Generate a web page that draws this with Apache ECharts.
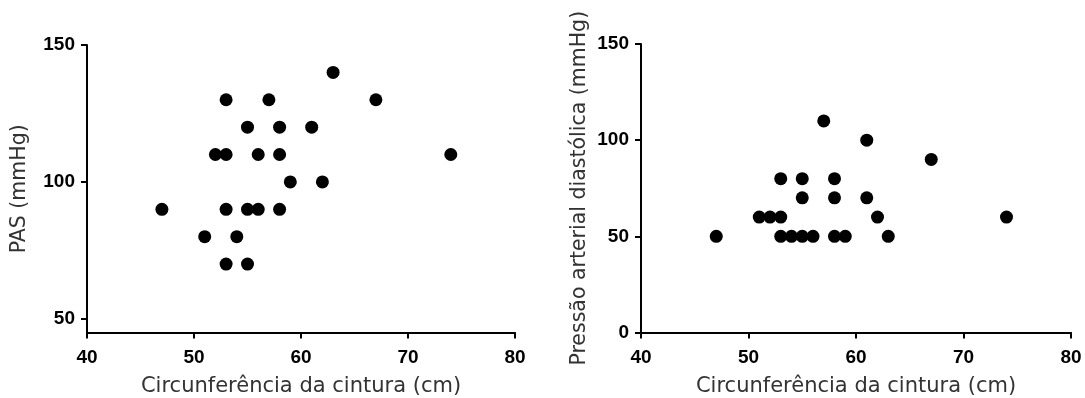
<!DOCTYPE html>
<html>
<head>
<meta charset="utf-8">
<script src="https://cdn.jsdelivr.net/npm/echarts@6/dist/echarts.min.js"></script>
<style>
  html, body { margin: 0; padding: 0; background: #fff; }
  #chart { width: 1085px; height: 398px; }
</style>
</head>
<body>
<div id="chart"></div>
<script>
// PAS x circunferência
const pasWaist = [63, 53, 57, 67, 55, 58, 61, 52, 53, 56, 58, 74, 59, 62, 47, 53, 55, 56, 58, 51, 54, 53, 55]
const pasValues = [140, 130, 130, 130, 120, 120, 120, 110, 110, 110, 110, 110, 100, 100, 90, 90, 90, 90, 90, 80, 80, 70, 70]

// PAD x circunferência
const padWaist = [57, 61, 67, 53, 55, 58, 55, 58, 61, 51, 52, 53, 62, 74, 47, 53, 54, 55, 56, 58, 59, 63]
const padValues = [110, 100, 90, 80, 80, 80, 70, 70, 70, 60, 60, 60, 60, 60, 50, 50, 50, 50, 50, 50, 50, 50]

const waistTicks = [40, 50, 60, 70, 80]
const pasTicks = [50, 100, 150]
const padTicks = [0, 50, 100, 150]

const xTitle = 'Circunferência da cintura (cm)'
const pasTitle = 'PAS (mmHg)'
const padTitle = 'Pressão arterial diastólica (mmHg)'

const tickFont = 'Arial, "Liberation Sans", sans-serif'
const titleFont = '"DejaVu Sans", Verdana, sans-serif'
const lineStyle = { color: '#000', width: 2 }
const yTitleStyle = { fontFamily: titleFont, fontSize: 20.5, color: '#333' }
const xTitleStyle = { fontFamily: titleFont, fontSize: 21, color: '#333' }

const toPoints = (xs, ys) => xs.map((x, i) => [x, ys[i]])

const xAxisBase = gridIndex => ({
  gridIndex,
  type: 'value',
  min: waistTicks[0],
  max: waistTicks[waistTicks.length - 1],
  interval: 10,
  name: xTitle,
  nameLocation: 'middle',
  nameGap: 44,
  nameTextStyle: xTitleStyle,
  axisLine: { show: true, lineStyle },
  axisTick: { show: true, length: 6, lineStyle },
  axisLabel: { margin: 16, fontFamily: tickFont, fontSize: 19, fontWeight: 'bold', color: '#000' },
  splitLine: { show: false }
})

const yAxisBase = (gridIndex, ticks, min, title, gap) => ({
  gridIndex,
  type: 'value',
  min,
  max: ticks[ticks.length - 1],
  name: title,
  nameLocation: 'middle',
  nameGap: gap,
  nameTextStyle: yTitleStyle,
  axisLine: { show: true, lineStyle },
  axisTick: { show: true, length: 6, lineStyle, customValues: ticks },
  axisLabel: { margin: 12, fontFamily: tickFont, fontSize: 19, fontWeight: 'bold', color: '#000', customValues: ticks },
  splitLine: { show: false }
})

const chart = echarts.init(document.getElementById('chart'))

chart.setOption({
  backgroundColor: '#fff',
  animation: false,
  grid: [
    { left: 87, right: 570, top: 45, bottom: 65.5, outerBoundsMode: 'none', containLabel: false },
    { left: 641, right: 14, top: 44, bottom: 65.5, outerBoundsMode: 'none', containLabel: false }
  ],
  xAxis: [xAxisBase(0), xAxisBase(1)],
  yAxis: [
    yAxisBase(0, pasTicks, 45, pasTitle, 57),
    yAxisBase(1, padTicks, 0, padTitle, 51)
  ],
  series: [
    {
      type: 'scatter',
      xAxisIndex: 0,
      yAxisIndex: 0,
      data: toPoints(pasWaist, pasValues),
      symbolSize: 13,
      itemStyle: { color: '#000', opacity: 1 }
    },
    {
      type: 'scatter',
      xAxisIndex: 1,
      yAxisIndex: 1,
      data: toPoints(padWaist, padValues),
      symbolSize: 13,
      itemStyle: { color: '#000', opacity: 1 }
    }
  ]
})
</script>
</body>
</html>
